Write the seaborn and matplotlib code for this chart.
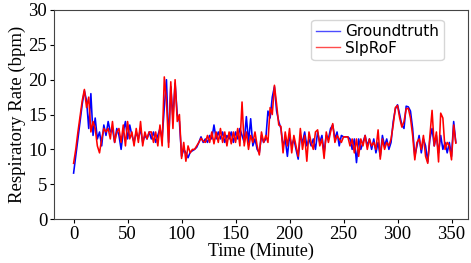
import numpy as np
import pandas as pd
import matplotlib
matplotlib.use("Agg")
import matplotlib.pyplot as plt
import seaborn as sns

# respiratory rate, one value every 2 minutes
groundtruth = [
    6.6, 9.0, 11.5, 14.0, 16.5, 18.4, 17.0, 13.0, 18.0, 12.0,
    14.5, 11.5, 12.5, 10.5, 13.5, 12.0, 14.0, 12.5, 13.0, 11.0,
    13.0, 12.0, 10.0, 12.5, 14.0, 11.5, 13.5, 12.0, 11.0, 12.5,
    11.5, 13.0, 11.0, 12.0, 11.5, 12.5, 11.5, 12.5, 11.0, 12.0,
    13.0, 11.5, 16.0, 20.0, 11.0, 19.0, 14.5, 19.5, 15.0, 14.0,
    9.0, 10.0, 9.5, 8.8, 9.6, 9.8, 10.0, 10.3, 11.0, 11.8,
    11.0, 11.5, 11.0, 12.0, 11.5, 13.5, 11.5, 12.5, 11.5, 12.5,
    11.0, 12.0, 11.5, 12.5, 11.0, 12.5, 11.5, 13.0, 12.0, 11.0,
    14.7, 11.0, 14.4, 10.5, 11.5, 10.0, 9.5, 12.0, 11.0, 11.5,
    15.5, 14.5, 17.5, 19.0, 15.5, 14.0, 13.0, 10.5, 11.5, 9.0,
    12.0, 10.5, 11.5, 10.0, 8.6, 12.0, 11.0, 12.5, 10.5, 11.5,
    10.5, 11.5, 10.0, 12.5, 11.0, 12.0, 9.5, 12.0, 11.5, 13.0,
    13.5, 11.5, 12.5, 10.5, 12.0, 11.8, 11.8, 11.8, 11.5, 10.0,
    11.5, 8.1, 11.5, 10.0, 11.0, 12.0, 10.5, 11.5, 10.0, 11.5,
    9.5, 11.0, 9.0, 12.0, 10.5, 11.5, 10.0, 11.0, 14.0, 15.8,
    16.4, 15.0, 13.5, 13.0, 16.2, 16.1, 15.5, 13.0, 9.0, 10.5,
    12.0, 9.5, 11.5, 10.5, 8.2, 11.5, 13.0, 10.5, 12.0, 9.5,
    12.0, 10.0, 11.0, 9.5, 11.0, 9.0, 14.0, 11.0,
]
slprof = [
    8.0, 10.0, 12.5, 14.8, 17.0, 18.6, 16.0, 17.5, 12.5, 14.0,
    13.0, 10.5, 9.5, 11.5, 13.0, 12.5, 13.0, 11.5, 14.0, 11.0,
    12.5, 13.0, 11.0, 13.5, 10.5, 14.0, 11.5, 12.5, 10.5, 13.0,
    11.0, 14.0, 10.5, 12.5, 11.5, 12.5, 12.5, 11.0, 12.5, 10.5,
    13.5, 10.5, 20.4, 17.0, 10.3, 19.7, 13.0, 20.0, 14.0, 15.0,
    8.7, 11.0, 8.3, 10.5, 9.5, 10.0, 10.0, 10.5, 11.0, 11.6,
    11.2, 11.0, 12.0, 11.0, 12.5, 10.8, 12.5, 11.0, 13.0, 11.0,
    12.5, 10.5, 12.5, 10.8, 12.5, 11.0, 13.0, 10.5, 16.8, 10.5,
    12.5, 10.0, 12.0, 11.0, 12.5, 10.5, 9.2, 12.5, 11.0, 12.0,
    11.0, 16.0, 15.0, 19.2, 16.5, 13.5, 13.3, 9.5, 12.5, 10.5,
    13.0, 9.5, 12.0, 10.5, 9.0, 13.0, 10.0, 12.0, 8.3, 12.5,
    11.0, 10.0, 12.5, 12.8, 10.5, 11.5, 8.7, 12.5, 11.0, 12.5,
    13.7, 11.0, 12.0, 11.5, 11.0, 11.8, 11.8, 11.8, 10.5, 11.5,
    9.5, 11.5, 9.0, 11.5, 10.5, 12.0, 10.0, 11.5, 10.5, 11.0,
    10.0, 12.8, 8.6, 11.5, 10.0, 11.0, 10.5, 11.5, 13.5, 16.0,
    16.3, 14.5, 13.2, 14.0, 15.8, 15.9, 14.5, 12.0, 8.5, 11.0,
    11.5, 10.0, 12.0, 9.0, 8.0, 12.0, 15.6, 10.5, 12.5, 8.2,
    15.2, 14.5, 10.0, 11.0, 10.5, 8.5, 13.5, 10.9,
]
minutes = np.arange(len(groundtruth)) * 2

df = pd.concat([
    pd.DataFrame({"Time": minutes, "Rate": groundtruth, "Method": "Groundtruth"}),
    pd.DataFrame({"Time": minutes, "Rate": slprof, "Method": "SlpRoF"}),
])

serif = ["Liberation Serif", "DejaVu Serif"]

fig = plt.figure(figsize=(4.71, 2.63), dpi=100)
ax = fig.add_axes([0.115, 0.167, 0.878, 0.795])
sns.lineplot(data=df, x="Time", y="Rate", hue="Method",
             palette={"Groundtruth": "blue", "SlpRoF": "red"},
             linewidth=1.15, ax=ax, legend=False)

ax.set_xlim(-18, 365)
ax.set_ylim(0, 30)
ax.set_xticks([0, 50, 100, 150, 200, 250, 300, 350])
ax.set_yticks([0, 5, 10, 15, 20, 25, 30])
ax.set_xlabel("Time (Minute)", fontsize=13, family=serif, labelpad=0)
ax.set_ylabel("Respiratory Rate (bpm)", fontsize=13.5, family=serif, labelpad=2)
for lab in ax.get_xticklabels() + ax.get_yticklabels():
    lab.set_family(serif)
    lab.set_fontsize(13.5)
ax.tick_params(length=3, width=0.8, pad=2)
for s in ax.spines.values():
    s.set_color("#444444")

ax.plot([], [], color="blue", lw=1, alpha=0.7, label="Groundtruth")
ax.plot([], [], color="red", lw=1, alpha=0.7, label="SlpRoF")
ax.legend(loc="upper right", prop={"family": "DejaVu Sans", "size": 11},
          handlelength=1.6, handletextpad=0.3, borderpad=0.3,
          labelspacing=0.1, bbox_to_anchor=(0.96, 0.99))

fig.savefig("out.png", dpi=100)
